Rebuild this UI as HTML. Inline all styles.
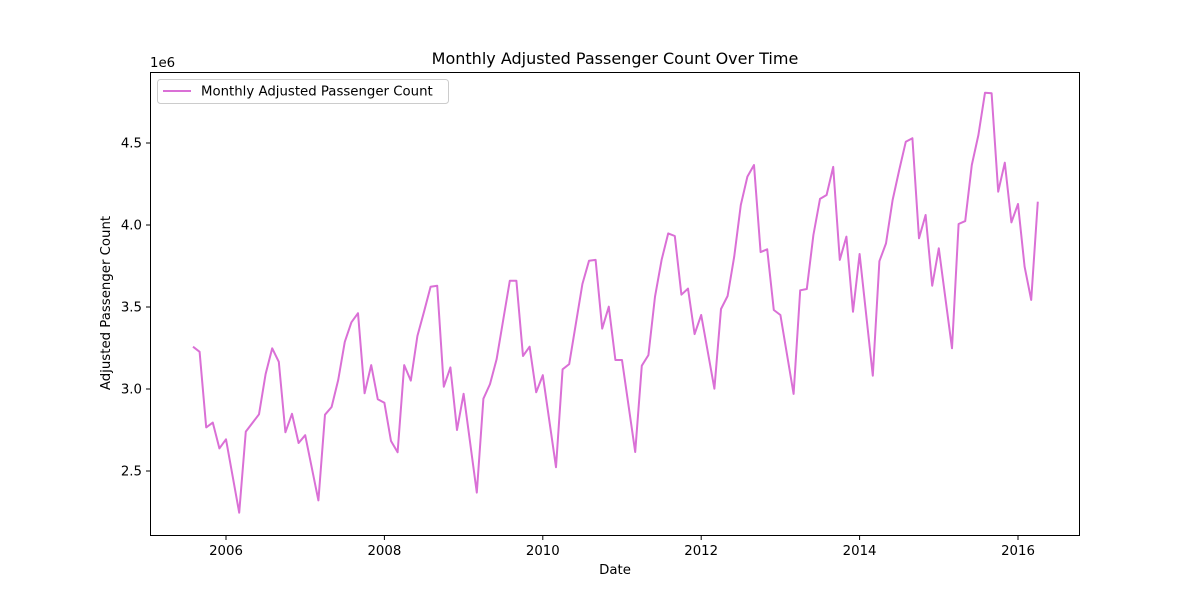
<!DOCTYPE html>
<html><head><meta charset="utf-8"><style>
body{margin:0;background:#fff;}
svg text{font-family:"DejaVu Sans","Liberation Sans",sans-serif;fill:#000;}
</style></head><body>
<svg id="chart" width="1200" height="600" viewBox="0 0 1200 600">
<rect width="1200" height="600" fill="#fff"/>
<text x="615" y="64" font-size="16" text-anchor="middle">Monthly Adjusted Passenger Count Over Time</text>
<text x="615" y="574" font-size="13.3" text-anchor="middle">Date</text>
<text transform="translate(110,303) rotate(-90)" font-size="13.3" text-anchor="middle">Adjusted Passenger Count</text>
<text x="150" y="67" font-size="13.3">1e6</text>
<g id="ticks"></g>
<polyline id="line" fill="none" stroke="#DA70D6" stroke-width="2" stroke-linejoin="round"/>
<rect x="150.5" y="72.5" width="929" height="463" fill="none" stroke="#000" stroke-width="1"/>
<g>
<rect x="157.5" y="79.5" width="291" height="24" rx="3" fill="#fff" fill-opacity="0.8" stroke="#ccc"/>
<line x1="163" y1="91" x2="191" y2="91" stroke="#DA70D6" stroke-width="2"/>
<text x="201" y="95.5" font-size="13.3">Monthly Adjusted Passenger Count</text>
</g>
</svg>
<script>
const dates = ["2005-08","2005-09","2005-10","2005-11","2005-12","2006-01","2006-03","2006-04","2006-06","2006-07","2006-08","2006-09","2006-10","2006-11","2006-12","2007-01",
"2007-03","2007-04","2007-05","2007-06","2007-07","2007-08","2007-09","2007-10","2007-11","2007-12",
"2008-01","2008-02","2008-03","2008-04","2008-05","2008-06","2008-07","2008-08","2008-09","2008-10","2008-11","2008-12","2009-01",
"2009-03","2009-04","2009-05","2009-06","2009-07","2009-08","2009-09","2009-10","2009-11","2009-12","2010-01",
"2010-03","2010-04","2010-05","2010-06","2010-07","2010-08","2010-09","2010-10","2010-11","2010-12","2011-01",
"2011-03","2011-04","2011-05","2011-06","2011-07","2011-08","2011-09","2011-10","2011-11","2011-12","2012-01",
"2012-03","2012-04","2012-05","2012-06","2012-07","2012-08","2012-09","2012-10","2012-11","2012-12","2013-01",
"2013-03","2013-04","2013-05","2013-06","2013-07","2013-08","2013-09","2013-10","2013-11","2013-12","2014-01",
"2014-03","2014-04","2014-05","2014-06","2014-07","2014-08","2014-09","2014-10","2014-11","2014-12","2015-01",
"2015-03","2015-04","2015-05","2015-06","2015-07","2015-08","2015-09","2015-10","2015-11","2015-12","2016-01","2016-02","2016-03","2016-04"];
const values = [3.258,3.227,2.766,2.795,2.638,2.693,2.246,2.740,2.846,3.091,3.248,3.166,2.736,2.849,2.671,2.718,
2.321,2.843,2.890,3.055,3.288,3.407,3.462,2.974,3.146,2.937,
2.916,2.683,2.614,3.146,3.051,3.323,3.471,3.624,3.630,3.014,3.132,2.750,2.971,
2.368,2.941,3.030,3.181,3.421,3.660,3.660,3.201,3.258,2.980,3.084,
2.523,3.120,3.152,3.396,3.640,3.782,3.787,3.368,3.502,3.177,3.177,
2.616,3.142,3.207,3.563,3.787,3.949,3.933,3.575,3.612,3.335,3.451,
3.002,3.488,3.567,3.807,4.122,4.295,4.366,3.835,3.852,3.482,3.451,
2.970,3.602,3.610,3.939,4.159,4.183,4.354,3.787,3.929,3.471,3.823,
3.081,3.779,3.888,4.152,4.335,4.508,4.529,3.919,4.061,3.630,3.858,
3.248,4.006,4.024,4.366,4.549,4.807,4.803,4.203,4.380,4.016,4.128,3.746,3.543,4.142];
const xTicks = [2006,2008,2010,2012,2014,2016];
const yTicks = [2.5,3.0,3.5,4.0,4.5];
</script>
<script>
function xScale(yr){return 226 + (yr - 2006) * 79.2;}
function yScale(v){return 471 - (v - 2.5) * 164;}
function dateToYear(s){const p=s.split('-');return +p[0] + (+p[1]-1)/12;}
const NS="http://www.w3.org/2000/svg";
const g=document.getElementById('ticks');
xTicks.forEach(t=>{
  const x=xScale(t);
  const l=document.createElementNS(NS,'line');
  l.setAttribute('x1',x);l.setAttribute('x2',x);l.setAttribute('y1',535.5);l.setAttribute('y2',540);l.setAttribute('stroke','#000');
  
  
  g.appendChild(l);
  const tx=document.createElementNS(NS,'text');
  tx.setAttribute('x',x);tx.setAttribute('y',555);tx.setAttribute('font-size','13.3');tx.setAttribute('text-anchor','middle');
  tx.textContent=t;
  
  
  g.appendChild(tx);
});
yTicks.forEach(t=>{
  const y=yScale(t);
  const l=document.createElementNS(NS,'line');
  l.setAttribute('x1',146);l.setAttribute('x2',150.5);l.setAttribute('y1',y);l.setAttribute('y2',y);l.setAttribute('stroke','#000');
  
  
  g.appendChild(l);
  const tx=document.createElementNS(NS,'text');
  tx.setAttribute('x',142);tx.setAttribute('y',y+4.5);tx.setAttribute('font-size','13.3');tx.setAttribute('text-anchor','end');
  tx.textContent=t.toFixed(1);
  
  
  g.appendChild(tx);
});
const pts=dates.map((d,i)=>xScale(dateToYear(d)).toFixed(1)+','+yScale(values[i]).toFixed(1)).join(' ');
document.getElementById('line').setAttribute('points',pts);
</script>
</body></html>
